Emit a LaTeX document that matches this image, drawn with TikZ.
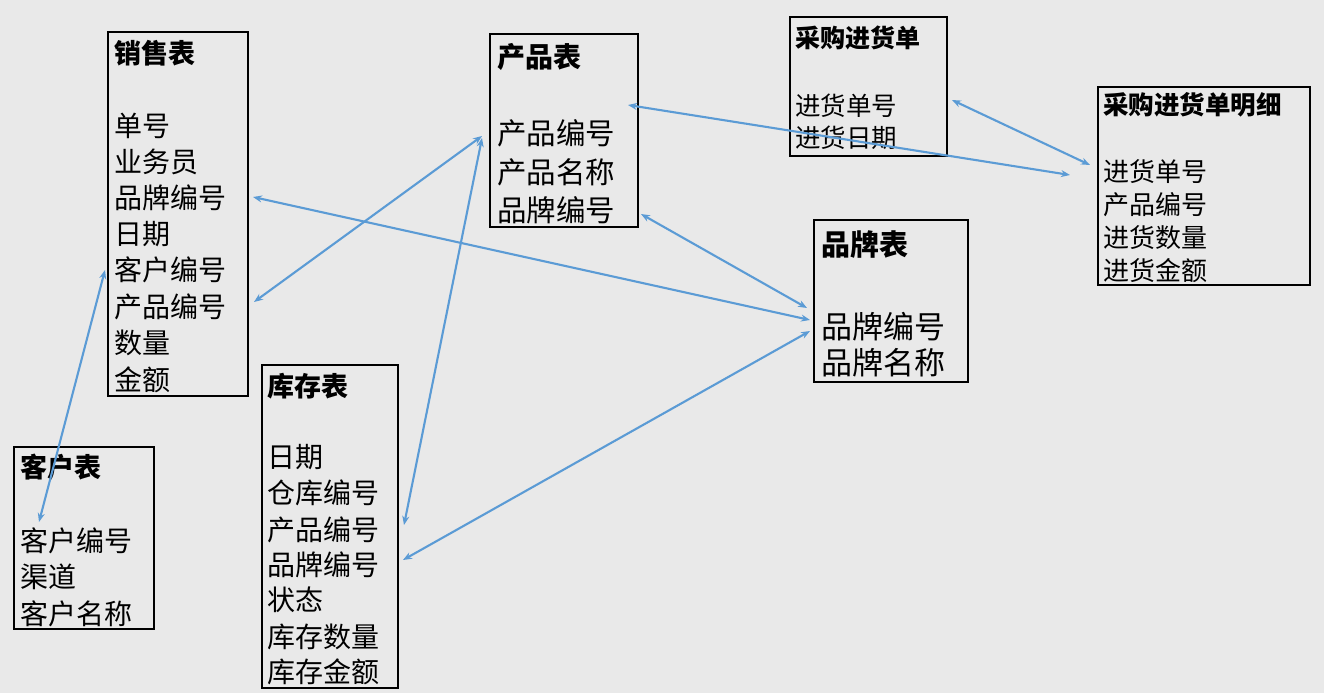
\documentclass[tikz,border=0pt]{standalone}
\usepackage{fontspec}
\setmainfont{Noto Sans CJK SC}
\usetikzlibrary{arrows.meta}
\definecolor{bg}{RGB}{233,233,233}
\definecolor{lnk}{RGB}{91,155,213}
\begin{document}
\begin{tikzpicture}[x=1pt,y=-1pt,
  box/.style={draw=black,line width=2pt,anchor=north west,inner sep=0pt,fill=bg},
  ttl/.style={anchor=west,inner sep=0pt,font={\fontsize{#1pt}{#1pt}\selectfont\bfseries}},
  fld/.style={anchor=west,inner sep=0pt,font={\fontsize{#1pt}{#1pt}\selectfont}},
  link/.style={draw=lnk,line width=2.1pt,{Stealth[length=9pt,width=7pt]}-{Stealth[length=9pt,width=7pt]}}]
\fill[bg] (0,0) rectangle (1324,693);
\useasboundingbox (0,0) rectangle (1324,693);

% 销售表
\node[box,minimum width=140pt,minimum height=364pt] (sales) at (107,31) {};
\node[ttl=27] (sales-t) at (114,53.5) {销售表};
\node[fld=28] (sales-1) at (114,125.5) {单号};
\node[fld=28] (sales-2) at (114,161.5) {业务员};
\node[fld=28] (sales-3) at (114,197.5) {品牌编号};
\node[fld=28] (sales-4) at (114,234) {日期};
\node[fld=28] (sales-5) at (114,270) {客户编号};
\node[fld=28] (sales-6) at (114,306.5) {产品编号};
\node[fld=28] (sales-7) at (114,343) {数量};
\node[fld=28] (sales-8) at (114,380) {金额};

% 产品表
\node[box,minimum width=148pt,minimum height=193pt] (prod) at (489,33) {};
\node[ttl=28] (prod-t) at (497,56.5) {产品表};
\node[fld=29.5] (prod-1) at (497,133.5) {产品编号};
\node[fld=29.5] (prod-2) at (497,172) {产品名称};
\node[fld=29.5] (prod-3) at (497,210) {品牌编号};

% 采购进货单
\node[box,minimum width=157pt,minimum height=139pt] (pur) at (789,16) {};
\node[ttl=25] (pur-t) at (795,38) {采购进货单};
\node[fld=25.5] (pur-1) at (795,106) {进货单号};
\node[fld=25.5] (pur-2) at (795,138) {进货日期};

% 采购进货单明细
\node[box,minimum width=212pt,minimum height=198pt] (purd) at (1097,86) {};
\node[ttl=25.5] (purd-t) at (1103,105) {采购进货单明细};
\node[fld=26] (purd-1) at (1103,172) {进货单号};
\node[fld=26] (purd-2) at (1103,205) {产品编号};
\node[fld=26] (purd-3) at (1103,238) {进货数量};
\node[fld=26] (purd-4) at (1103,271) {进货金额};

% 品牌表
\node[box,minimum width=154pt,minimum height=162pt] (brand) at (813,219) {};
\node[ttl=29] (brand-t) at (821,245) {品牌表};
\node[fld=31] (brand-1) at (821,327) {品牌编号};
\node[fld=31] (brand-2) at (821,363) {品牌名称};

% 库存表
\node[box,minimum width=136pt,minimum height=323pt] (stock) at (261,364) {};
\node[ttl=27] (stock-t) at (267,386) {库存表};
\node[fld=28] (stock-1) at (267,457) {日期};
\node[fld=28] (stock-2) at (267,493) {仓库编号};
\node[fld=28] (stock-3) at (267,530) {产品编号};
\node[fld=28] (stock-4) at (267,565) {品牌编号};
\node[fld=28] (stock-5) at (267,600) {状态};
\node[fld=28] (stock-6) at (267,637) {库存数量};
\node[fld=28] (stock-7) at (267,672) {库存金额};

% 客户表
\node[box,minimum width=140pt,minimum height=182pt] (cust) at (13,446) {};
\node[ttl=27] (cust-t) at (20,467) {客户表};
\node[fld=28] (cust-1) at (20,541) {客户编号};
\node[fld=28] (cust-2) at (20,577) {渠道};
\node[fld=28] (cust-3) at (20,614) {客户名称};

% connector end points
\coordinate (a1) at (39,522);
\coordinate (a2) at (105,270);
\coordinate (b1) at (254,302);
\coordinate (b2) at (482,136);
\coordinate (c1) at (253,197);
\coordinate (c2) at (810,320);
\coordinate (d1) at (641,214);
\coordinate (d2) at (807,308);
\coordinate (e1) at (404,525);
\coordinate (e2) at (482,138);
\coordinate (f1) at (403,560);
\coordinate (f2) at (810,331);
\coordinate (g1) at (628,105);
\coordinate (g2) at (1070,175);
\coordinate (h1) at (952,100);
\coordinate (h2) at (1090,165);

\draw[link] (a1) -- (a2);
\draw[link] (b1) -- (b2);
\draw[link] (c1) -- (c2);
\draw[link] (d1) -- (d2);
\draw[link] (e1) -- (e2);
\draw[link] (f1) -- (f2);
\draw[link] (g1) -- (g2);
\draw[link] (h1) -- (h2);
\end{tikzpicture}
\end{document}
